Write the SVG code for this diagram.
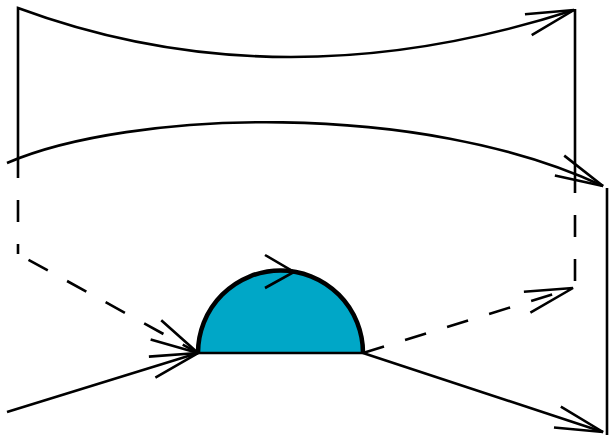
<svg xmlns="http://www.w3.org/2000/svg" width="609" height="435" viewBox="0 0 609 435">
<style>
.ln{fill:none;stroke:#000;stroke-width:2.6;stroke-linejoin:miter}
.dash{stroke-dasharray:22 22}
.ah{fill:none;stroke:#000;stroke-width:2.6;stroke-dasharray:none}
</style>
<defs>
<marker id="arr" markerUnits="userSpaceOnUse" viewBox="-52 -14 56 28" refX="0" refY="0" markerWidth="56" markerHeight="28" orient="auto" overflow="visible">
<path class="ah" d="M-48,-11 L0,0 L-48,11"/>
</marker>
</defs>
<rect width="609" height="435" fill="#fff"/>
<g id="semicircle">
<path d="M198,353 A82.5,82.5 0 0 1 363,353 Z" fill="#00A7C7" stroke="none"/>
<path d="M198,353 L363,353" class="ln"/>
<path d="M198,353 A82.5,82.5 0 0 1 363,353" fill="none" stroke="#000" stroke-width="4.5"/>
<path d="M265,255 L294,272 L265,288" class="ah"/>
</g>
<g id="connectors">
<path class="ln" d="M18,178 L18,8 Q280,105 574,10" marker-end="url(#arr)"/>
<path class="ln" d="M575,9 L575,193"/>
<path class="ln dash" style="stroke-dashoffset:22" d="M575,193 L575,288"/>
<path class="ln" d="M7,163 C130,110 420,100 603,186" marker-end="url(#arr)"/>
<path class="ln" d="M607,188 L607,435"/>
<path class="ln dash" style="stroke-dashoffset:22" d="M18,178 L18,254"/>
<path class="ln dash" style="stroke-dashoffset:32" d="M18,254 L198,353" marker-end="url(#arr)"/>
<path class="ln" d="M7,412 L198,353" marker-end="url(#arr)"/>
<path class="ln dash" d="M363,353 L573,288" marker-end="url(#arr)"/>
<path class="ln" d="M363,353 L603,432" marker-end="url(#arr)"/>
</g>
</svg>
